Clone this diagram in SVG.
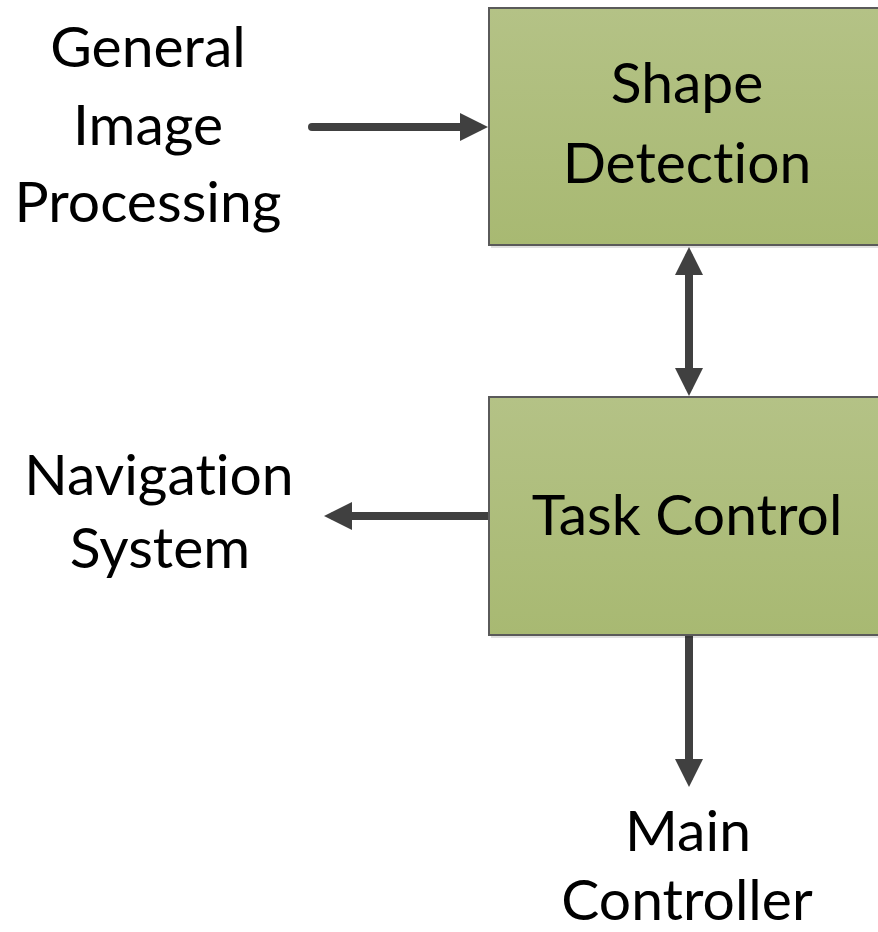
<svg xmlns="http://www.w3.org/2000/svg" width="878" height="932" viewBox="0 0 878 932">
  <style>
    .lbl { font-family: Lato, "Open Sans", "Liberation Sans", sans-serif; font-size: 57px; fill: #000; text-anchor: middle; font-variant-ligatures: none; font-feature-settings: "liga" 0; }
    .box { fill: url(#boxFill); stroke: #5a5a5a; stroke-width: 2; }
    .shadow { fill: #000; opacity: 0.12; }
    .wire { stroke: #404040; stroke-width: 8; stroke-linecap: round; fill: none; }
  </style>
  <defs>
    <linearGradient id="boxFill" x1="0" y1="0" x2="0" y2="1">
      <stop offset="0" stop-color="#b4c286"/>
      <stop offset="1" stop-color="#a8b972"/>
    </linearGradient>
    <!-- arrowhead: tip sits 10px past the end of the line it caps -->
    <marker id="head" viewBox="0 0 28 28" refX="18" refY="14" markerWidth="28" markerHeight="28" markerUnits="userSpaceOnUse" orient="auto-start-reverse">
      <path d="M0,0 L28,14 L0,28 Z" fill="#404040"/>
    </marker>
  </defs>

  <rect width="878" height="932" fill="#fff"/>

  <!-- connectors -->
  <g id="connectors">
    <line class="wire" x1="312" y1="127" x2="478" y2="127" marker-end="url(#head)"/>
    <line class="wire" x1="689" y1="257" x2="689" y2="386" marker-start="url(#head)" marker-end="url(#head)"/>
    <line class="wire" x1="492" y1="516" x2="334" y2="516" marker-end="url(#head)"/>
    <line class="wire" x1="689" y1="636" x2="689" y2="777" marker-end="url(#head)"/>
  </g>

  <!-- processing blocks -->
  <g id="shape-detection">
    <rect class="shadow" x="491" y="11" width="400" height="237"/>
    <rect class="box" x="489" y="8" width="400" height="237"/>
    <text class="lbl" x="687" y="103">Shape</text>
    <text class="lbl" x="687" y="183">Detection</text>
  </g>

  <g id="task-control">
    <rect class="shadow" x="491" y="400" width="400" height="238"/>
    <rect class="box" x="489" y="397" width="400" height="238"/>
    <text class="lbl" x="687" y="535">Task Control</text>
  </g>

  <!-- external endpoints -->
  <g id="general-image-processing">
    <text class="lbl" x="148" y="67">General</text>
    <text class="lbl" x="148" y="145">Image</text>
    <text class="lbl" x="148" y="222">Processing</text>
  </g>

  <g id="navigation-system">
    <text class="lbl" x="159" y="495">Navigation</text>
    <text class="lbl" x="160" y="568">System</text>
  </g>

  <g id="main-controller">
    <text class="lbl" x="688" y="851">Main</text>
    <text class="lbl" x="687" y="920">Controller</text>
  </g>
</svg>
